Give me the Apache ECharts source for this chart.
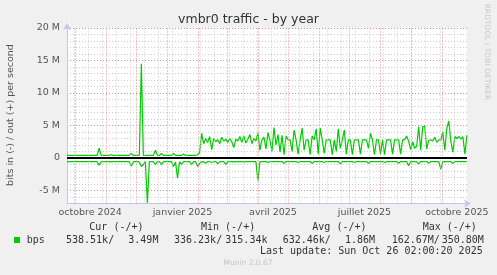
<!DOCTYPE html>
<html><head><meta charset="utf-8">
<script src="https://cdn.jsdelivr.net/npm/echarts@6/dist/echarts.min.js"></script>
<style>html,body{margin:0;padding:0;background:#f0f0f0}#c{width:497px;height:275px}</style>
</head><body><div id="c"></div>
<script>
// time base of the data (one point every 2 days)
const startDate = Date.UTC(2024, 8, 23);
const stepDays = 2;
const axisMin = Date.UTC(2024, 8, 23);
const axisMax = Date.UTC(2025, 9, 26, 2);

// out (+) traffic, in M bits/s
const outValues = [
  0.4,0.4,0.4,0.4,0.4,0.4,0.4,0.4,0.4,0.4,
  0.4,0.4,0.4,0.4,0.4,0.4,1.5,0.4,0.4,0.4,
  0.4,0.4,0.5,0.4,0.4,0.4,0.4,0.4,0.4,0.4,
  0.4,0.4,0.7,0.4,0.4,0.4,0.4,14.5,0.4,0.4,
  0.4,0.4,0.4,0.4,1.2,0.4,0.4,0.7,0.4,0.4,
  0.4,0.4,0.4,0.7,0.4,0.4,0.4,0.4,0.6,0.4,
  0.4,0.4,0.4,0.4,0.4,0.5,0.8,3.8,2.2,3.0,
  2.4,3.3,1.3,3.0,2.5,2.8,2.2,3.2,2.6,2.9,
  2.4,3.0,2.5,1.6,2.9,2.6,3.3,2.4,3.4,2.3,
  2.9,3.6,2.2,3.0,2.6,3.9,1.2,2.8,3.2,1.4,
  3.9,2.7,1.0,4.7,2.0,3.6,0.9,3.5,0.5,3.4,
  2.8,2.8,1.0,4.3,2.8,0.6,2.8,4.6,1.2,2.8,
  2.8,0.5,3.4,2.8,4.5,0.6,4.6,2.8,0.7,2.8,
  2.8,2.8,0.5,2.8,1.0,4.5,1.5,2.8,4.3,0.6,
  2.8,2.8,0.5,2.8,2.8,2.8,0.6,2.8,2.8,2.8,
  1.5,3.8,2.8,0.5,2.8,2.8,0.6,2.8,0.5,2.8,
  2.8,2.8,0.6,2.8,2.8,2.8,0.6,2.8,2.8,3.4,
  2.6,1.3,2.5,1.5,1.8,4.8,1.2,4.8,4.9,1.4,
  2.7,2.8,2.6,3.2,2.4,2.8,2.7,4.0,1.2,4.6,
  5.7,2.6,0.9,3.3,3.0,3.3,2.9,3.3,0.6,3.5
];
// in (-) traffic, in M bits/s (drawn negative)
const inValues = [
  -0.57,-0.57,-0.57,-0.57,-0.57,-0.57,-0.57,-0.57,-0.57,-0.57,
  -0.57,-0.57,-0.57,-0.57,-0.57,-0.57,-1.1,-0.57,-0.57,-0.57,
  -0.57,-0.57,-0.6,-0.57,-0.57,-0.57,-0.57,-0.57,-0.57,-0.57,
  -0.57,-0.57,-1.25,-0.57,-0.57,-0.57,-0.6,-1.3,-1.0,-0.57,
  -6.9,-0.57,-0.57,-0.57,-1.0,-0.57,-0.57,-1.0,-0.57,-0.57,
  -0.57,-0.57,-0.57,-1.3,-0.6,-3.1,-0.57,-1.0,-0.57,-0.57,
  -0.57,-0.57,-1.0,-0.57,-0.57,-1.3,-0.8,-0.6,-0.57,-0.8,
  -0.57,-0.57,-0.7,-0.57,-0.57,-0.9,-0.57,-0.55,-0.55,-1.0,
  -0.55,-0.55,-0.55,-0.6,-0.55,-0.55,-0.55,-0.55,-0.6,-0.55,
  -0.55,-0.55,-0.55,-0.55,-0.55,-3.5,-0.6,-0.55,-0.55,-0.55,
  -0.7,-0.55,-0.55,-0.55,-0.55,-0.55,-0.55,-0.55,-0.8,-0.55,
  -0.55,-0.55,-0.55,-0.55,-0.55,-0.7,-0.55,-0.55,-0.55,-0.55,
  -0.55,-0.55,-0.8,-0.55,-0.55,-0.55,-0.55,-0.55,-0.7,-0.55,
  -0.55,-0.55,-0.55,-0.55,-0.55,-0.55,-0.9,-0.55,-0.55,-0.55,
  -0.55,-0.55,-0.55,-0.7,-0.55,-0.55,-0.55,-0.55,-0.55,-0.55,
  -0.8,-0.55,-0.55,-0.55,-0.55,-0.55,-0.55,-0.55,-0.7,-0.55,
  -0.55,-0.55,-0.55,-0.55,-0.55,-0.8,-0.55,-0.55,-0.55,-0.55,
  -1.2,-0.55,-0.55,-0.55,-0.55,-0.9,-0.55,-0.55,-0.55,-0.55,
  -0.8,-0.55,-0.55,-0.55,-0.55,-0.55,-1.7,-0.6,-0.55,-0.55,
  -0.55,-0.55,-0.8,-0.55,-0.55,-0.55,-0.55,-0.55,-0.55,-0.54
];

const yMin = -7, yMax = 20, yStep = 1, yMajor = 5;
const monthStarts = [
  Date.UTC(2024,9,1), Date.UTC(2024,10,1), Date.UTC(2024,11,1), Date.UTC(2025,0,1),
  Date.UTC(2025,1,1), Date.UTC(2025,2,1), Date.UTC(2025,3,1), Date.UTC(2025,4,1),
  Date.UTC(2025,5,1), Date.UTC(2025,6,1), Date.UTC(2025,7,1), Date.UTC(2025,8,1),
  Date.UTC(2025,9,1)
];
// minor time grid: every second Monday
const minorGridStart = Date.UTC(2024,8,30);
const minorGridStepDays = 14;
const tickLabelDates = [Date.UTC(2024,9,16), Date.UTC(2025,0,16), Date.UTC(2025,3,16), Date.UTC(2025,6,16), Date.UTC(2025,9,16)];
const tickLabels = ['octobre 2024','janvier 2025','avril 2025','juillet 2025','octobre 2025'];

const titleText = 'vmbr0 traffic - by year';
const yAxisTitle = 'bits in (-) / out (+) per second';
const legendName = 'bps';
const legendHeaders = ['Cur (-/+)','Min (-/+)','Avg (-/+)','Max (-/+)'];
const legendValues = ['538.51k/','3.49M','336.23k/','315.34k','632.46k/','1.86M','162.67M/','350.80M'];
const lastUpdate = 'Last update: Sun Oct 26 02:00:20 2025';
const footer = 'Munin 2.0.67';
const watermark = 'RRDTOOL / TOBI OETIKER';

const DAY = 86400000;
const outData = outValues.map((v, i) => [startDate + i * stepDays * DAY, v]);
const inData = inValues.map((v, i) => [startDate + i * stepDays * DAY, v]);
const minorLines = [];
for (let t = minorGridStart; t < axisMax; t += minorGridStepDays * DAY) minorLines.push(t);

const GREEN = '#00cc00';
const MAJOR = 'rgb(236,140,140)';
const MINOR = 'rgb(205,205,205)';
const AXIS = '#c4c4ec';
const mono = '10px "DejaVu Sans Mono"';

const chart = echarts.init(document.getElementById('c'), null, {renderer: 'canvas'});

const headerX = [89.3, 201, 312.3, 422.7];
const valueX = [66, 128.3, 174, 225.3, 282.7, 345, 391.7, 441.7];
const graphics = [
  {type:'text', x:248.5, y:20, style:{text:titleText, font:'12.5px "DejaVu Sans"', fill:'#333', align:'center', verticalAlign:'middle'}},
  {type:'text', x:11, y:115, rotation:Math.PI/2, style:{text:yAxisTitle, font:'9.5px "DejaVu Sans"', fill:'#555', align:'center', verticalAlign:'middle'}},
  {type:'text', x:487, y:52, rotation:-Math.PI/2, style:{text:watermark, font:'7.5px "DejaVu Sans"', fill:'#c8c8c8', align:'center', verticalAlign:'middle'}},
  {type:'rect', shape:{x:14, y:237, width:6, height:6}, style:{fill:GREEN}},
  {type:'text', x:26.7, y:240, style:{text:legendName, font:mono, fill:'#333', verticalAlign:'middle'}},
  {type:'text', x:482.7, y:251.7, style:{text:lastUpdate, font:mono, fill:'#333', align:'right', verticalAlign:'middle'}},
  {type:'text', x:248, y:263.5, style:{text:footer, font:'7.5px "DejaVu Sans"', fill:'#c4c4c4', align:'center', verticalAlign:'middle'}}
];
legendHeaders.forEach((t, i) => graphics.push({type:'text', x:headerX[i], y:227.3, style:{text:t, font:mono, fill:'#333', verticalAlign:'middle'}}));
legendValues.forEach((t, i) => graphics.push({type:'text', x:valueX[i], y:240, style:{text:t, font:mono, fill:'#333', verticalAlign:'middle'}}));

const vline = (vals, color, dash, z) => ({
  type:'line', data:[], z:z, silent:true,
  markLine:{silent:true, animation:false, symbol:['none','none'], label:{show:false},
    lineStyle:{color:color, type:dash, width:1}, emphasis:{disabled:true},
    data: vals.map(v => ({xAxis: v}))}
});

chart.setOption({
  animation:false,
  backgroundColor:'#f0f0f0',
  textStyle:{fontFamily:'DejaVu Sans'},
  grid:{left:67, top:28, width:400, height:175.5, show:true, backgroundColor:'#ffffff', borderWidth:0, containLabel:false},
  xAxis:{
    type:'value', min:axisMin, max:axisMax, scale:true,
    splitLine:{show:false}, axisTick:{show:false},
    axisLine:{onZero:false, show:true, lineStyle:{color:AXIS, width:1}, symbol:['none','arrow'], symbolSize:[6,7], symbolOffset:[0,4]},
    axisLabel:{customValues:tickLabelDates, color:'#555', fontSize:9.5, fontFamily:'DejaVu Sans', margin:4, hideOverlap:false,
      formatter:(v) => { const k = tickLabelDates.indexOf(v); return k >= 0 ? tickLabels[k] : ''; }}
  },
  yAxis:{
    type:'value', min:yMin, max:yMax, interval:yStep,
    axisTick:{show:false},
    axisLine:{show:true, lineStyle:{color:AXIS, width:1}, symbol:['none','arrow'], symbolSize:[6,7], symbolOffset:[0,5]},
    splitLine:{show:true, lineStyle:{color:[MINOR, MINOR, MAJOR, MINOR, MINOR], type:[1,2], width:1}},
    axisLabel:{interval:0, color:'#555', fontSize:9.5, fontFamily:'DejaVu Sans', margin:7,
      formatter:(v) => (Math.round(v) % yMajor === 0) ? (v === 0 ? '0' : v + ' M') : ''}
  },
  series:[
    vline(minorLines, MINOR, [1,2], 1),
    vline(monthStarts, MAJOR, [1,2], 1),
    {type:'line', data:[], z:2, silent:true,
      markLine:{silent:true, animation:false, symbol:['none','none'], label:{show:false}, emphasis:{disabled:true},
        lineStyle:{color:'#000', type:'solid', width:2}, data:[{yAxis:0}]}},
    {type:'line', name:'out', data:outData, z:3, showSymbol:false, symbol:'none', lineStyle:{color:GREEN, width:1.2}, itemStyle:{color:GREEN}},
    {type:'line', name:'in', data:inData, z:3, showSymbol:false, symbol:'none', lineStyle:{color:GREEN, width:1.2}, itemStyle:{color:GREEN}}
  ],
  graphic:graphics
});
</script></body></html>
